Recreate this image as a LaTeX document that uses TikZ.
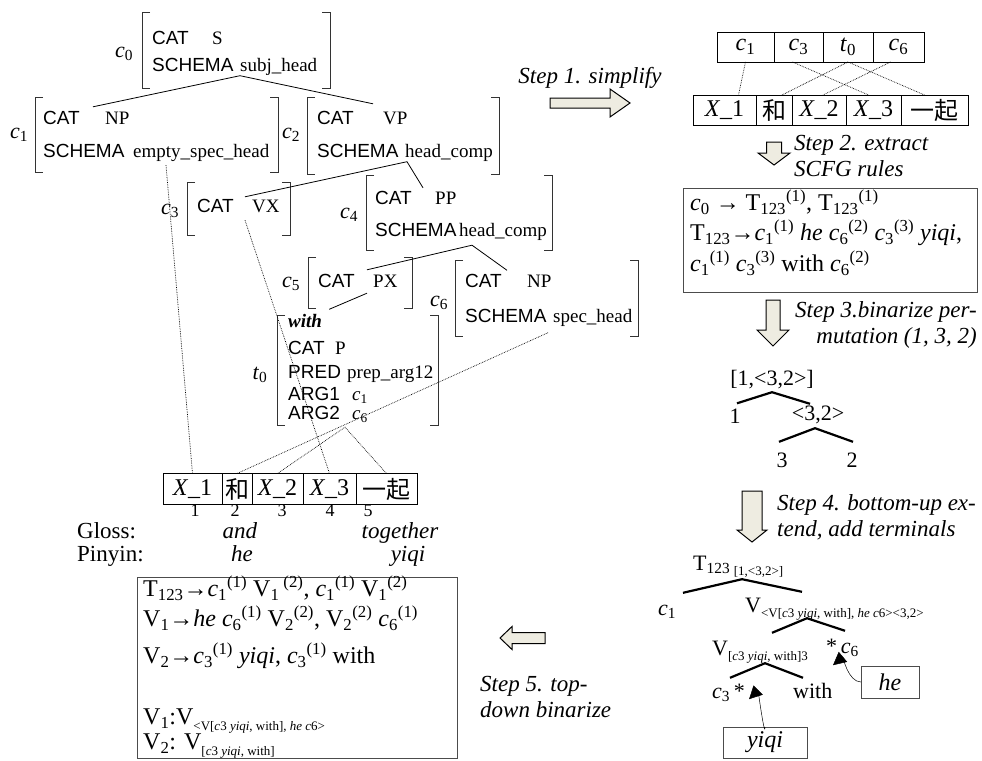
\documentclass[tikz,border=0pt]{standalone}
\usepackage{fontspec}
\setmainfont{Liberation Serif}
\setsansfont{Liberation Sans}
\newfontfamily\cjk{Noto Sans CJK SC}
\usetikzlibrary{positioning,arrows.meta}

\definecolor{arrowfill}{HTML}{EEECE1}
\newcommand{\ci}[1]{\textit{c}\textsubscript{#1}}
\newcommand{\X}[1]{\textit{X}\_#1}
\newcommand{\tsub}[1]{\raisebox{-.5ex}{\fontsize{13}{13}\selectfont #1}}
\newcommand{\brackets}[1]{%
  \draw[brk] ([xshift=8pt]#1.north west) -- (#1.north west) -- (#1.south west) -- ([xshift=8pt]#1.south west);
  \draw[brk] ([xshift=-8pt]#1.north east) -- (#1.north east) -- (#1.south east) -- ([xshift=-8pt]#1.south east);}

\tikzset{
  avm/.style={anchor=north west, inner sep=0pt, outer sep=0pt},
  brk/.style={draw=black!80, line width=.9pt},
  tag/.style={font=\fontsize{22}{24}\selectfont, inner sep=0pt},
  feat/.style={font=\sffamily\fontsize{19}{21}\selectfont, anchor=west, inner sep=0pt, text height=13pt, text depth=4pt},
  val/.style={font=\fontsize{19}{21}\selectfont, anchor=west, inner sep=0pt, text height=13pt, text depth=4pt},
  branch/.style={line width=.8pt},
  align link/.style={densely dotted, line width=.7pt},
  cell/.style={draw, line width=.9pt, inner sep=0pt, outer sep=0pt, minimum height=31pt, font=\fontsize{24}{26}\selectfont},
  num/.style={font=\fontsize{18}{20}\selectfont, inner sep=0pt},
  gloss/.style={font=\fontsize{23}{25}\selectfont, inner sep=0pt, text height=14pt, text depth=4pt},
  box/.style={draw=black!70, line width=1pt, anchor=north west, inner sep=0pt, outer sep=0pt},
  rule/.style={font=\fontsize{24}{26}\selectfont, anchor=west, inner sep=0pt, text height=17pt, text depth=6pt},
  steplabel/.style={font=\itshape\fontsize{23}{26}\selectfont, inner sep=0pt},
  arrowbody/.style={draw=black, line width=1pt, fill=arrowfill},
  pics/fatarrow/.style n args={4}{code={
    \draw[arrowbody] (0,-#2/2) -- (#1-#4,-#2/2) -- (#1-#4,-#3/2) -- (#1,0)
      -- (#1-#4,#3/2) -- (#1-#4,#2/2) -- (0,#2/2) -- cycle;}},
  tlabel/.style={font=\fontsize{22}{24}\selectfont, inner sep=0pt, text height=15pt, text depth=5pt},
  thickbranch/.style={line width=2.2pt},
  ptr/.style={line width=.5pt, -{Triangle[length=13pt,width=13pt]}},
}

\begin{document}
\begin{tikzpicture}[x=1pt,y=-1pt]
\useasboundingbox (0,0) rectangle (982,760);

% feature structures
\node[avm, minimum width=188pt, minimum height=76pt] (c0) at (142,12) {};
\brackets{c0}
\node[tag] (c0-tag) at (124,54) {\ci0};
\node[feat] (c0-f1) at (152,40) {CAT};
\node[val] (c0-v1) at (212,40) {S};
\node[feat] (c0-f2) at (152,67) {SCHEMA};
\node[val] (c0-v2) at (240,67) {subj\_head};

\node[avm, minimum width=243pt, minimum height=75pt] (c1) at (35,97) {};
\brackets{c1}
\node[tag] (c1-tag) at (19,135) {\ci1};
\node[feat] (c1-f1) at (43,120) {CAT};
\node[val] (c1-v1) at (105,120) {NP};
\node[feat] (c1-f2) at (43,153) {SCHEMA};
\node[val] (c1-v2) at (133,153) {empty\_spec\_head};

\node[avm, minimum width=192pt, minimum height=77pt] (c2) at (307,97) {};
\brackets{c2}
\node[tag] (c2-tag) at (291,135) {\ci2};
\node[feat] (c2-f1) at (317,120) {CAT};
\node[val] (c2-v1) at (383,120) {VP};
\node[feat] (c2-f2) at (317,153) {SCHEMA};
\node[val] (c2-v2) at (405,153) {head\_comp};

\node[avm, minimum width=103pt, minimum height=53pt] (c3) at (187,182) {};
\brackets{c3}
\node[tag] (c3-tag) at (170,211) {\ci3};
\node[feat] (c3-f1) at (197,208) {CAT};
\node[val] (c3-v1) at (252,208) {VX};

\node[avm, minimum width=186pt, minimum height=75pt] (c4) at (366,175) {};
\brackets{c4}
\node[tag] (c4-tag) at (349,215) {\ci4};
\node[feat] (c4-f1) at (375,200) {CAT};
\node[val] (c4-v1) at (435,200) {PP};
\node[feat] (c4-f2) at (375,232) {SCHEMA};
\node[val] (c4-v2) at (459,232) {head\_comp};

\node[avm, minimum width=104pt, minimum height=51pt] (c5) at (308,257) {};
\brackets{c5}
\node[tag] (c5-tag) at (291,284) {\ci5};
\node[feat] (c5-f1) at (318,283) {CAT};
\node[val] (c5-v1) at (373,283) {PX};

\node[avm, minimum width=183pt, minimum height=76pt] (c6) at (455,260) {};
\brackets{c6}
\node[tag] (c6-tag) at (439,303) {\ci6};
\node[feat] (c6-f1) at (465,283) {CAT};
\node[val] (c6-v1) at (527,283) {NP};
\node[feat] (c6-f2) at (465,318) {SCHEMA};
\node[val] (c6-v2) at (553,318) {spec\_head};

\node[avm, minimum width=161pt, minimum height=110pt] (t0) at (277,315) {};
\brackets{t0}
\node[tag] (t0-tag) at (260,375) {\textit{t}\textsubscript{0}};
\node[val] (t0-w) at (288,323) {\textbf{\textit{with}}};
\node[feat] (t0-f1) at (288,350) {CAT};
\node[val] (t0-v1) at (335,350) {P};
\node[feat] (t0-f2) at (288,374) {PRED};
\node[val] (t0-v2) at (347,374) {prep\_arg12};
\node[feat] (t0-f3) at (288,396) {ARG1};
\node[val] (t0-v3) at (352,396) {\ci1};
\node[feat] (t0-f4) at (288,415) {ARG2};
\node[val] (t0-v4) at (352,415) {\ci6};

\draw[branch] ([xshift=-12pt,yshift=4.5pt]c1-v1.north west) -- (c0-v2.south west) -- ([xshift=-10pt,yshift=7.5pt]c2-v1.north west);
\draw[branch] ([xshift=-7pt,yshift=2.5pt]c3-v1.north west) -- ([xshift=2pt]c2-v2.south west) -- ([xshift=-12pt,yshift=3.5pt]c4-v1.north west);
\draw[branch] ([xshift=-6pt,yshift=4.5pt]c5-v1.north west) -- ([xshift=13pt,yshift=-4.5pt]c4-v2.south west) -- ([xshift=-20pt,yshift=4pt]c6-v1.north west);
\draw[branch] ([xshift=7pt,yshift=5pt]t0-w.north east) -- ([xshift=-6pt,yshift=-1.5pt]c5-v1.south west);

% source string
\node[cell, minimum width=59pt] (lx1) at (192.5,489) {\X1};
\node[cell, minimum width=30pt, right=0pt of lx1] (lhe) {\cjk 和};
\node[cell, minimum width=51pt, right=0pt of lhe] (lx2) {\X2};
\node[cell, minimum width=53pt, right=0pt of lx2] (lx3) {\X3};
\node[cell, minimum width=61pt, right=0pt of lx3] (lqi) {\cjk 一起};
\node[num] (n1) at (195,511) {1};
\node[num] (n2) at (235,511) {2};
\node[num] (n3) at (282,511) {3};
\node[num] (n4) at (330,511) {4};
\node[num] (n5) at (368,511) {5};

\draw[align link] ([xshift=33pt,yshift=-3.5pt]c1-v2.south west) -- (lx1.north);
\draw[align link] ([xshift=-7pt,yshift=-3.5pt]c3-v1.south west) -- (lx3.north);
\draw[align link] ([xshift=-5pt,yshift=-6pt]c6-v2.south west) -- (lhe.north);
\draw[align link] (lx2.north) -- ([xshift=-7pt,yshift=-3.5pt]t0-v4.south west) -- (lqi.north);

\node[gloss, anchor=west] (gl) at (77,533) {Gloss:};
\node[gloss] (gl-and) at (240,533) {\textit{and}};
\node[gloss] (gl-tog) at (400,533) {\textit{together}};
\node[gloss, anchor=west] (py) at (77,556) {Pinyin:};
\node[gloss] (py-he) at (242,556) {\textit{he}};
\node[gloss] (py-yq) at (408,556) {\textit{yiqi}};

% binarized rules
\node[box, minimum width=320pt, minimum height=181pt] (sum) at (137,577) {};
\node[rule] (b1) at (143,591) {T\textsubscript{123}→\ci1\textsuperscript{(1)} V\textsubscript{1}\,\textsuperscript{(2)}, \ci1\textsuperscript{(1)} V\textsubscript{1}\textsuperscript{(2)}};
\node[rule] (b2) at (143,621) {V\textsubscript{1}→\textit{he} \ci6\textsuperscript{(1)} V\textsubscript{2}\textsuperscript{(2)}, V\textsubscript{2}\textsuperscript{(2)} \ci6\textsuperscript{(1)}};
\node[rule] (b3) at (143,658) {V\textsubscript{2}→\ci3\textsuperscript{(1)} \textit{yiqi}, \ci3\textsuperscript{(1)} with};
\node[rule] (b4) at (143,719) {V\textsubscript{1}:V\tsub{<V[\textit{c}3 \textit{yiqi}, with], \textit{he c}6>}};
\node[rule] (b5) at (143,744) {V\textsubscript{2}: V\tsub{[\textit{c}3 \textit{yiqi}, with]}};

% step 1
\node[steplabel] (s1) at (590,78) {Step 1. simplify};
\pic at (550,103) {fatarrow={80}{10}{28}{20}};

\node[cell, minimum width=57pt, minimum height=30pt] (rc1) at (745.5,47) {\ci1};
\node[cell, minimum width=49pt, minimum height=30pt, right=0pt of rc1] (rc3) {\ci3};
\node[cell, minimum width=50pt, minimum height=30pt, right=0pt of rc3] (rt0) {\textit{t}\textsubscript{0}};
\node[cell, minimum width=51pt, minimum height=30pt, right=0pt of rt0] (rc6) {\ci6};
\node[cell, minimum width=63pt, minimum height=30pt] (rx1) at (724.5,110) {\X1};
\node[cell, minimum width=36pt, minimum height=30pt, right=0pt of rx1] (rhe) {\cjk 和};
\node[cell, minimum width=54pt, minimum height=30pt, right=0pt of rhe] (rx2) {\X2};
\node[cell, minimum width=55pt, minimum height=30pt, right=0pt of rx2] (rx3) {\X3};
\node[cell, minimum width=67pt, minimum height=30pt, right=0pt of rx3] (rqi) {\cjk 一起};

\draw[align link] (rc1.south) -- ([xshift=14pt]rx1.north);
\draw[align link] ([xshift=-6pt]rc3.south) -- ([xshift=-5pt]rx3.north);
\draw[align link] ([xshift=8pt]rhe.north) -- (rt0.south) -- ([xshift=-10pt]rqi.north);
\draw[align link] ([xshift=-8pt]rc6.south) -- ([xshift=4pt]rx2.north);

% step 2
\pic[rotate=-90] at (774,142) {fatarrow={23}{15}{32}{12}};
\node[steplabel, anchor=west, align=left] (s2) at (794,156) {Step 2. extract\\SCFG rules};
\node[box, minimum width=294pt, minimum height=104pt] (rules) at (683,188) {};
\node[rule] (r1) at (690,205) {\ci0\ → T\textsubscript{123}\textsuperscript{(1)}, T\textsubscript{123}\textsuperscript{(1)}};
\node[rule] (r2) at (690,235) {T\textsubscript{123}→\ci1\textsuperscript{(1)} \textit{he} \ci6\textsuperscript{(2)} \ci3\textsuperscript{(3)} \textit{yiqi},};
\node[rule] (r3) at (690,266) {\ci1\textsuperscript{(1)} \ci3\textsuperscript{(3)} with \ci6\textsuperscript{(2)}};

% step 3
\pic[rotate=-90] at (773,300) {fatarrow={46}{14}{32}{16}};
\node[steplabel, anchor=east, align=right] (s3) at (977,325) {Step 3.binarize per-\\mutation (1, 3, 2)};
\node[tlabel] (p0) at (772,380) {[1,<3,2>]};
\node[tlabel] (p1) at (735,418) {1};
\node[tlabel] (p32) at (818,415) {<3,2>};
\node[tlabel] (p3) at (782,462) {3};
\node[tlabel] (p2) at (852,462) {2};
\draw[thickbranch] ([xshift=2pt,yshift=4.5pt]p1.north) -- ([yshift=-2pt]p0.south) -- ([xshift=-8pt,yshift=1pt]p32.north);
\draw[thickbranch] ([xshift=-3pt,yshift=10pt]p3.north) -- ([xshift=-3pt,yshift=-3pt]p32.south) -- ([xshift=1pt,yshift=10pt]p2.north);

% step 4
\pic[rotate=-90] at (752,491) {fatarrow={51}{20}{30}{12}};
\node[steplabel, anchor=west, align=left] (s4) at (777,517) {Step 4. bottom-up ex-\\tend, add terminals};
\node[tlabel, anchor=west] (T) at (693,565) {T\textsubscript{123}\,\tsub{[1,<3,2>]}};
\node[tlabel, anchor=west] (s4c1) at (658,610) {\ci1};
\node[tlabel, anchor=west] (s4v) at (745,607) {V\tsub{<V[\textit{c}3 \textit{yiqi}, with], \textit{he c}6><3,2>}};
\node[tlabel, anchor=west] (s4v2) at (712,650) {V\tsub{[\textit{c}3 \textit{yiqi}, with]3}};
\node[tlabel, anchor=west] (s4c6) at (826,648) {*\,\ci6};
\node[tlabel, anchor=west] (s4c3) at (712,693) {\ci3\,*};
\node[tlabel, anchor=west] (s4w) at (793,693) {with};
\draw[thickbranch] ([xshift=25pt,yshift=7pt]s4c1.north west) -- ([xshift=49pt,yshift=-4pt]T.south west) -- ([xshift=57pt,yshift=5pt]s4v.north west);
\draw[thickbranch] ([xshift=60pt,yshift=7pt]s4v2.north west) -- ([xshift=62pt,yshift=-1pt]s4v.south west) -- ([xshift=19pt,yshift=7pt]s4c6.north west);
\draw[thickbranch] ([xshift=18pt,yshift=5pt]s4c3.north west) -- ([xshift=53pt,yshift=-3pt]s4v2.south west) -- ([xshift=10pt,yshift=5pt]s4w.north west);
\node[box, minimum width=58pt, minimum height=32pt, font=\itshape\fontsize{24}{26}\selectfont] (hebox) at (861,666) {he};
\node[box, minimum width=84pt, minimum height=31pt, font=\itshape\fontsize{24}{26}\selectfont] (yqbox) at (723,727) {yiqi};
\draw[ptr] (hebox.west) to[out=180,in=40] ([xshift=7pt,yshift=-7pt]s4c6.south west);
\draw[ptr] (yqbox.north) to[out=-90,in=45] ([xshift=4pt,yshift=4pt]s4c3.south east);

% step 5
\pic[rotate=180] at (545,638) {fatarrow={45}{11}{23}{12}};
\node[steplabel, anchor=west, align=left] (s5) at (480,697) {Step 5. top-\\down binarize};
\end{tikzpicture}
\end{document}
